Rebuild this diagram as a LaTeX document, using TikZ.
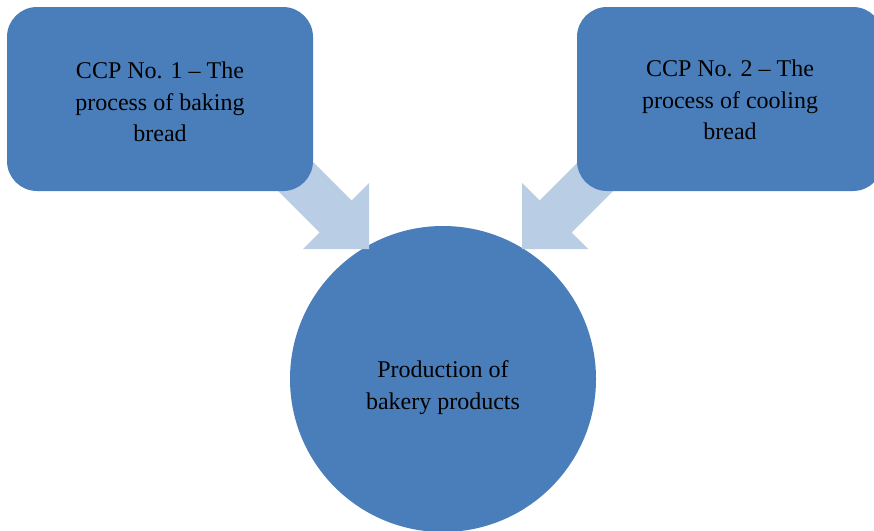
\documentclass[tikz,border=0pt]{standalone}
\usepackage{fontspec}
\setmainfont{Liberation Serif}
\definecolor{boxblue}{HTML}{4A7EBB}
\definecolor{arrowblue}{HTML}{B9CDE5}
\newcommand{\shiftedtext}[2]{\raisebox{#1}[\height][\depth]{\begin{tabular}{@{}c@{}}#2\end{tabular}}}
\begin{document}
\begin{tikzpicture}[x=1pt,y=-1pt,
  boxstyle/.style={rectangle, fill=boxblue, rounded corners=30pt, minimum width=306pt, minimum height=184pt, inner sep=0pt, align=center, font=\fontsize{24}{31.5}\selectfont, text=black},
  circstyle/.style={circle, fill=boxblue, minimum size=306pt, inner sep=0pt, align=center, font=\fontsize{24}{31.5}\selectfont, text=black},
  arrowstyle/.style={fill=arrowblue}]
\useasboundingbox[fill=white] (0,0) rectangle (874,530);
\node[circstyle] (c) at (443,379) {\shiftedtext{-8pt}{Production of\\bakery products}};
% left block arrow
\coordinate (t1) at (369,249);
\fill[arrowstyle] (286,135) -- (351.5,200.5) -- (369,183) -- (t1) -- (303,249) -- (319.5,232.5) -- (254,167) -- cycle;
% right block arrow
\coordinate (t2) at (522,249);
\fill[arrowstyle] (605,135) -- (539.5,200.5) -- (522,183) -- (t2) -- (588,249) -- (571.5,232.5) -- (637,167) -- cycle;
\node[boxstyle] (b1) at (160,99) {\shiftedtext{-5pt}{CCP No. 1 -- The\\process of baking\\bread}};
\node[boxstyle] (b2) at (730,99) {\shiftedtext{-3pt}{CCP No. 2 -- The\\process of cooling\\bread}};
\end{tikzpicture}
\end{document}
